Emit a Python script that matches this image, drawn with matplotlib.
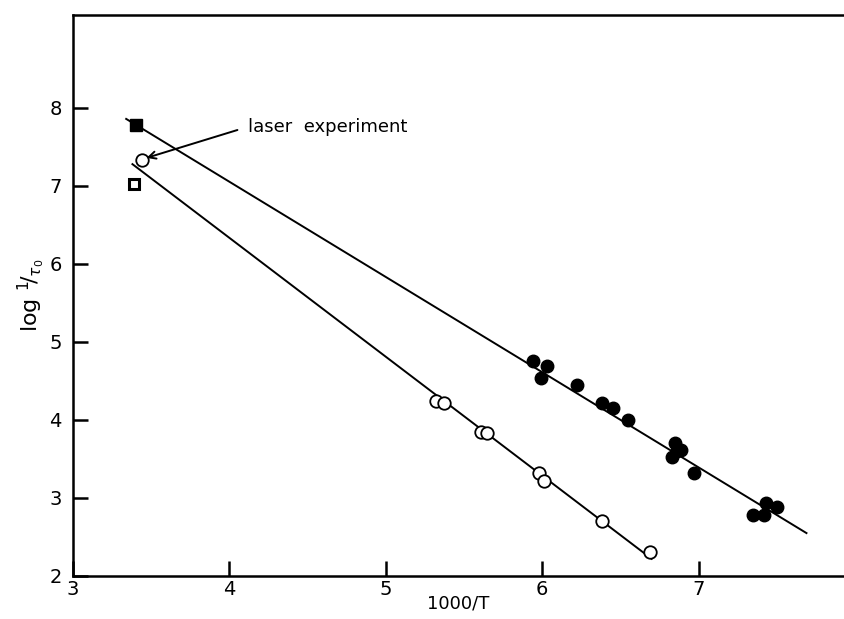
import matplotlib
matplotlib.use('Agg')
import matplotlib.pyplot as plt
import numpy as np

# filled circles (upper series)
filledX = [5.94, 6.03, 5.99, 6.22, 6.38, 6.45, 6.55, 6.85, 6.89, 6.83, 6.86, 6.97, 7.35, 7.43, 7.42, 7.50]
filledY = [4.76, 4.69, 4.54, 4.45, 4.22, 4.15, 4.00, 3.70, 3.62, 3.52, 3.60, 3.32, 2.78, 2.94, 2.78, 2.88]

# open circles (lower series)
openX = [5.32, 5.37, 5.61, 5.65, 5.98, 6.01, 6.38, 6.69]
openY = [4.24, 4.22, 3.85, 3.83, 3.32, 3.22, 2.71, 2.31]

# laser experiment points
laserCircle = (3.44, 7.33)
filledSquare = (3.40, 7.78)
openSquare = (3.39, 7.02)

# fitted lines (end points)
upperLineX = [3.34, 7.69]
upperLineY = [7.86, 2.55]
lowerLineX = [3.38, 6.70]
lowerLineY = [7.28, 2.22]

xTicks = [3, 4, 5, 6, 7]
yTicks = [2, 3, 4, 5, 6, 7, 8]


def main():
    fig = plt.figure(figsize=(8.44, 6.19), dpi=100)
    ax = fig.add_axes([0.0865, 0.0695, 0.9135, 0.906])

    ax.plot(upperLineX, upperLineY, color='black', lw=1.4)
    ax.plot(lowerLineX, lowerLineY, color='black', lw=1.4)

    ax.plot(filledX, filledY, 'o', color='black', ms=9)
    ax.plot(openX, openY, 'o', mfc='white', mec='black', mew=1.3, ms=9)
    ax.plot(*laserCircle, 'o', mfc='white', mec='black', mew=1.3, ms=9)
    ax.plot(*filledSquare, 's', color='black', ms=8)
    ax.plot(*openSquare, 's', mfc='white', mec='black', mew=2.2, ms=7.5)

    ax.annotate('laser  experiment', xy=(3.47, 7.36), xytext=(4.12, 7.76),
                fontsize=13, va='center', ha='left',
                arrowprops=dict(arrowstyle='->', color='black', lw=1.4,
                                shrinkA=6, shrinkB=0, relpos=(0, 0.5)))

    ax.set_xlim(3, 7.93)
    ax.set_ylim(2, 9.19)
    ax.set_xticks(xTicks)
    ax.set_yticks(yTicks)
    ax.tick_params(direction='in', length=11, width=1.8, labelsize=14)
    ax.tick_params(axis='y', pad=8)
    ax.tick_params(axis='x', pad=3)

    for side in ['left', 'bottom', 'top']:
        ax.spines[side].set_linewidth(1.8)
    ax.spines['right'].set_visible(False)

    ax.set_xlabel('1000/T', fontsize=13, labelpad=-3)
    ax.set_ylabel(r'log $^1\!/_{\tau_0}$', fontsize=16, labelpad=2)

    plt.savefig('out.png', dpi=100)


if __name__ == '__main__':
    main()
